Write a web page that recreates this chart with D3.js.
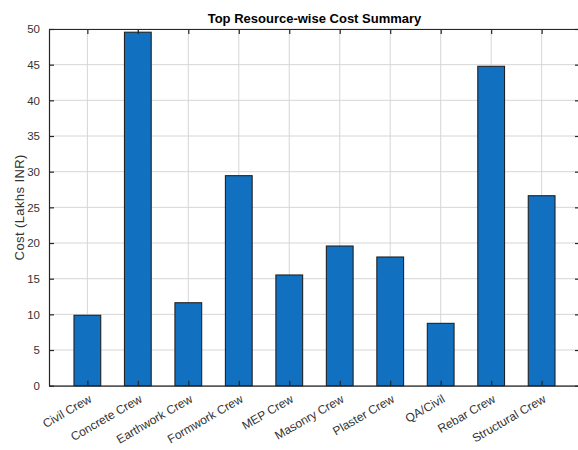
<!DOCTYPE html>
<html><head><meta charset="utf-8">
<script src="https://cdn.jsdelivr.net/npm/d3@7/dist/d3.min.js"></script>
<style>body{margin:0;background:#fff}svg{display:block}text{font-family:"Liberation Sans",Arial,sans-serif}</style>
</head><body>
<script>
const categories = ["Civil Crew","Concrete Crew","Earthwork Crew","Formwork Crew","MEP Crew","Masonry Crew","Plaster Crew","QA/Civil","Rebar Crew","Structural Crew"];
const costs = [9.87, 49.55, 11.63, 29.44, 15.52, 19.58, 18.04, 8.74, 44.77, 26.63];
const yTicks = [0,5,10,15,20,25,30,35,40,45,50];

const W = 578, H = 450;
const m = {left:49, right:580, top:29, bottom:385.7};
const svg = d3.select("body").append("svg").attr("width",W).attr("height",H);

const x = d3.scaleLinear().domain([0.24, 10.76]).range([m.left, m.right]);
const y = d3.scaleLinear().domain([0, 50]).range([m.bottom, m.top]);
const step = x(2) - x(1);
const bw = step * 0.53;
const axisCol = "#262626";
const labelCol = "#333";

// grid
const g = svg.append("g");
g.selectAll("line.gy").data(yTicks).join("line")
  .attr("x1", m.left).attr("x2", m.right).attr("y1", d=>y(d)).attr("y2", d=>y(d))
  .attr("stroke","#d6d6d6").attr("stroke-width",1);
g.selectAll("line.gx").data(categories).join("line")
  .attr("x1",(d,i)=>x(i+1)).attr("x2",(d,i)=>x(i+1)).attr("y1",m.top).attr("y2",m.bottom)
  .attr("stroke","#d6d6d6").attr("stroke-width",1);

// bars
svg.append("g").selectAll("rect").data(costs).join("rect")
  .attr("x",(d,i)=>x(i+1)-bw/2).attr("width",bw)
  .attr("y",d=>y(d)).attr("height",d=>y(0)-y(d))
  .attr("fill","#1170c0").attr("stroke","#222").attr("stroke-width",1.1);

// axes (MATLAB style box with inward ticks)
const yAxisL = d3.axisLeft(y).tickValues(yTicks).tickSizeInner(-5).tickSizeOuter(0).tickPadding(9);
const gl = svg.append("g").attr("transform",`translate(${m.left},0)`).call(yAxisL);
const yAxisR = d3.axisRight(y).tickValues(yTicks).tickSizeInner(-5).tickSizeOuter(0).tickFormat("");
svg.append("g").attr("transform",`translate(${m.right},0)`).call(yAxisR);
const xVals = categories.map((d,i)=>i+1);
const xAxisB = d3.axisBottom(x).tickValues(xVals).tickSizeInner(-5).tickSizeOuter(0).tickFormat("");
svg.append("g").attr("transform",`translate(0,${m.bottom})`).call(xAxisB);
const xAxisT = d3.axisTop(x).tickValues(xVals).tickSizeInner(-5).tickSizeOuter(0).tickFormat("");
svg.append("g").attr("transform",`translate(0,${m.top})`).call(xAxisT);

svg.selectAll(".domain").attr("stroke",axisCol).attr("stroke-width",1.2);
svg.selectAll(".tick line").attr("stroke",axisCol).attr("stroke-width",1.2);
gl.selectAll("text").attr("font-size","11.5px").attr("fill",labelCol);

// x labels rotated
svg.append("g").selectAll("text").data(categories).join("text")
  .attr("transform",(d,i)=>`translate(${x(i+1)+3},${m.bottom+12}) rotate(-30)`)
  .attr("text-anchor","end").attr("dy","0.35em")
  .attr("font-size","12px").attr("fill",labelCol).text(d=>d);

// title
svg.append("text").attr("x",(m.left+m.right)/2).attr("y",23).attr("text-anchor","middle")
  .attr("font-size","13px").attr("font-weight","bold").attr("fill","#000")
  .text("Top Resource-wise Cost Summary");

// y label
svg.append("text").attr("transform",`translate(24,${(m.top+m.bottom)/2}) rotate(-90)`)
  .attr("text-anchor","middle").attr("font-size","13px").attr("letter-spacing","0.4px").attr("fill",labelCol)
  .text("Cost (Lakhs INR)");
</script>
</body></html>
